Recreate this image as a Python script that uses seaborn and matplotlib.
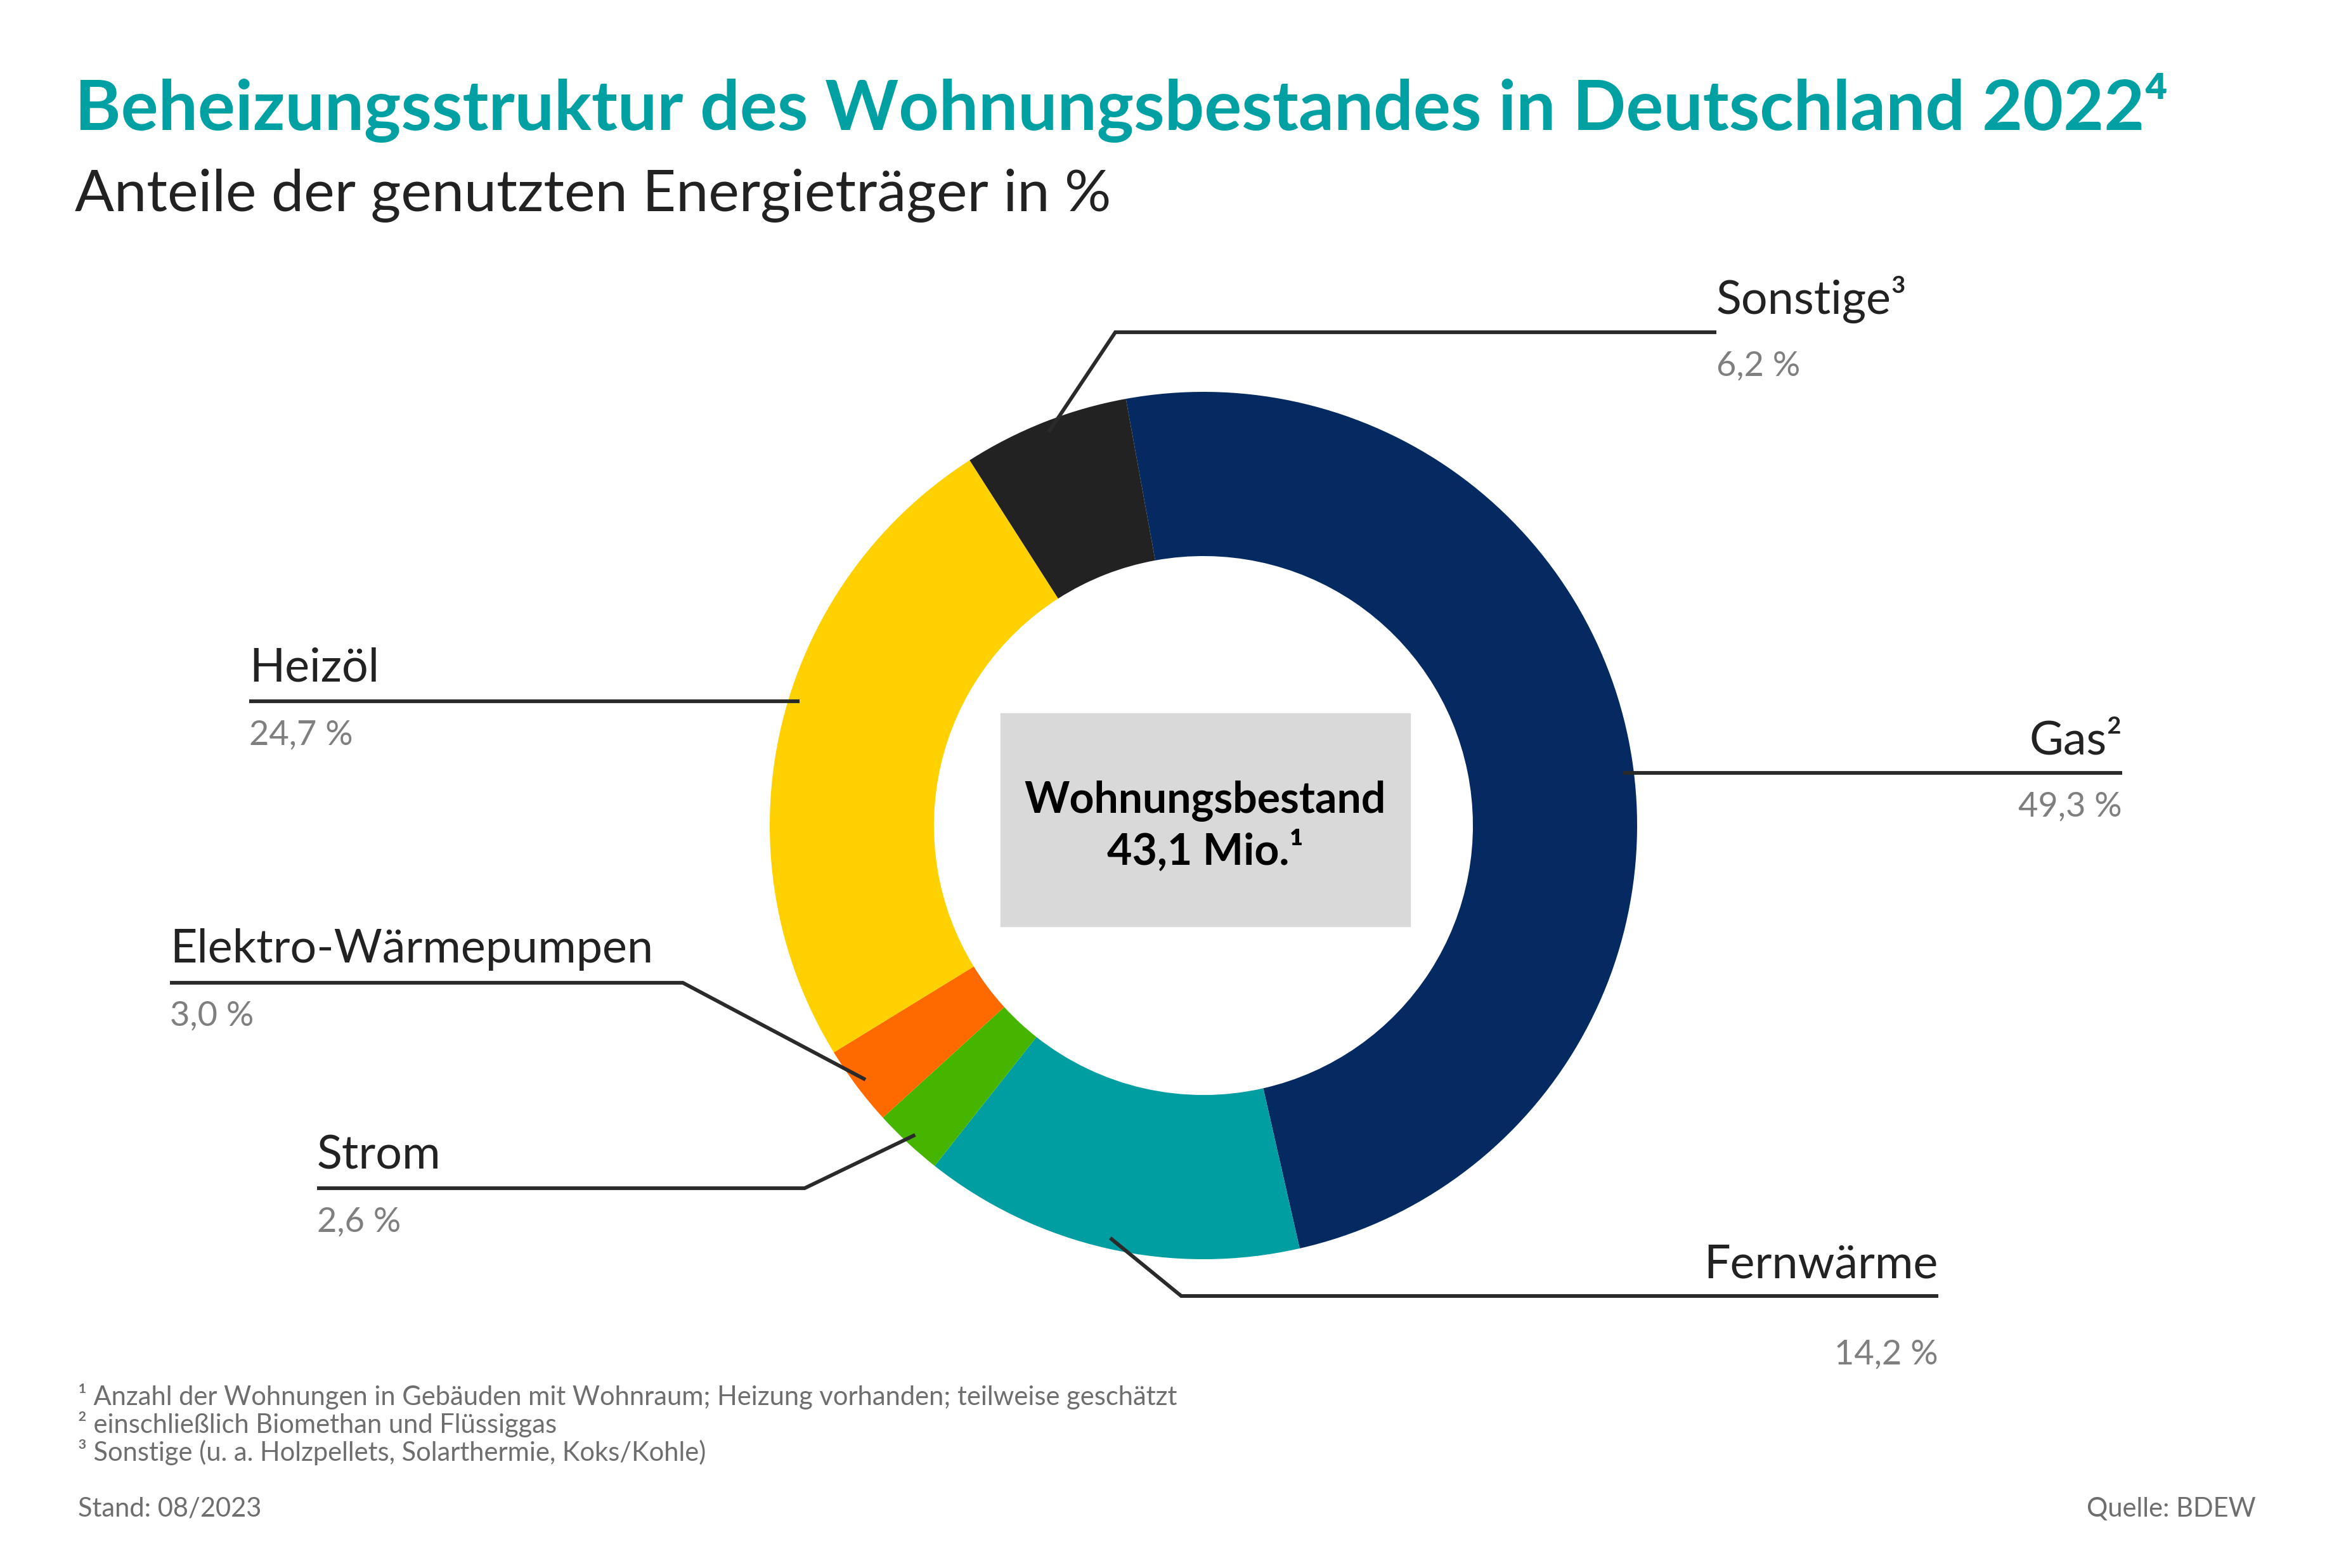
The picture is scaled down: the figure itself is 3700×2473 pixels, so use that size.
import matplotlib.pyplot as plt
from matplotlib.patches import Rectangle
import seaborn as sns
import numpy as np

# chart data
categories = ['Gas²', 'Fernwärme', 'Strom', 'Elektro-Wärmepumpen', 'Heizöl', 'Sonstige³']
shares = [49.3, 14.2, 2.6, 3.0, 24.7, 6.2]
share_labels = ['49,3 %', '14,2 %', '2,6 %', '3,0 %', '24,7 %', '6,2 %']
colors = ['#052a62', '#009ea1', '#46b500', '#ff6a00', '#ffd100', '#222222']

title = 'Beheizungsstruktur des Wohnungsbestandes in Deutschland 2022⁴'
subtitle = 'Anteile der genutzten Energieträger in %'
center_lines = ['Wohnungsbestand', '43,1 Mio.¹']
footnotes = ['¹ Anzahl der Wohnungen in Gebäuden mit Wohnraum; Heizung vorhanden; teilweise geschätzt',
             '² einschließlich Biomethan und Flüssiggas',
             '³ Sonstige (u. a. Holzpellets, Solarthermie, Koks/Kohle)']
stand = 'Stand: 08/2023'
source = 'Quelle: BDEW'

# layout (pixels, y from top)
W, H = 3700, 2473
CX, CY = 1898, 1302
R, R_IN = 684, 425
# text_x, ha, label baseline, value baseline, line y, elbow x (None = straight line)
label_layout = {
    'Gas²': (3347, 'right', 1189, 1288, 1219, None),
    'Fernwärme': (3057, 'right', 2015, 2152, 2044, 1863),
    'Strom': (500, 'left', 1843, 1943, 1874, 1269),
    'Elektro-Wärmepumpen': (268, 'left', 1518, 1618, 1550, 1077),
    'Heizöl': (393, 'left', 1074, 1175, 1106, None),
    'Sonstige³': (2707, 'left', 495, 593, 524, 1759),
}

sns.set_theme(style='white')
plt.rcParams['font.family'] = ['Lato', 'DejaVu Sans']

fig = plt.figure(figsize=(W / 100, H / 100), dpi=100)
ax = fig.add_axes([0, 0, 1, 1])

wedges, _ = ax.pie(shares, colors=colors, startangle=-100.3, counterclock=True,
                   radius=R, center=(CX, CY),
                   wedgeprops=dict(width=R - R_IN, linewidth=0))
ax.set_xlim(0, W)
ax.set_ylim(H, 0)
ax.set_aspect('equal')
ax.axis('off')

# center box
ax.add_patch(Rectangle((1578, 1125), 646, 336, color='#d9d9d9', zorder=3))
ax.text(CX + 3, 1282, center_lines[0], ha='center', va='baseline',
        fontsize=49, fontweight='bold', color='black', zorder=4)
ax.text(CX + 3, 1363, center_lines[1], ha='center', va='baseline',
        fontsize=49, fontweight='bold', color='black', zorder=4)

# labels with leader lines
line_color = '#2a2a2a'
anchor_r = 0.975 * R
for w, cat, val in zip(wedges, categories, share_labels):
    tx, ha, ly, vy, liney, elbow = label_layout[cat]
    mid = np.deg2rad((w.theta1 + w.theta2) / 2)
    if elbow is None:
        side = np.sign(np.cos(mid))
        ax_x = CX + side * np.sqrt(anchor_r ** 2 - (liney - CY) ** 2)
        xs, ys = [ax_x, tx], [liney, liney]
    else:
        px = CX + anchor_r * np.cos(mid)
        py = CY + anchor_r * np.sin(mid)
        xs, ys = [px, elbow, tx], [py, liney, liney]
    ax.plot(xs, ys, color=line_color, lw=4.2, solid_capstyle='butt',
            solid_joinstyle='miter', zorder=5)
    ax.text(tx, ly, cat, ha=ha, va='baseline', fontsize=53, color='#222222')
    ax.text(tx, vy, val, ha=ha, va='baseline', fontsize=39, color='#7f7f7f')

# titles
ax.text(118, 205, title, ha='left', va='baseline', fontsize=79.5,
        fontweight='bold', color='#00a0a3')
ax.text(118, 333, subtitle, ha='left', va='baseline', fontsize=66,
        color='#222222')

# footnotes
for i, note in enumerate(footnotes):
    ax.text(123, 2216 + i * 44, note, ha='left', va='baseline', fontsize=30,
            color='#6e6e6e')
ax.text(123, 2392, stand, ha='left', va='baseline', fontsize=30, color='#6e6e6e')
ax.text(3558, 2392, source, ha='right', va='baseline', fontsize=30, color='#6e6e6e')

fig.savefig('out.png', dpi=100, facecolor='white')
